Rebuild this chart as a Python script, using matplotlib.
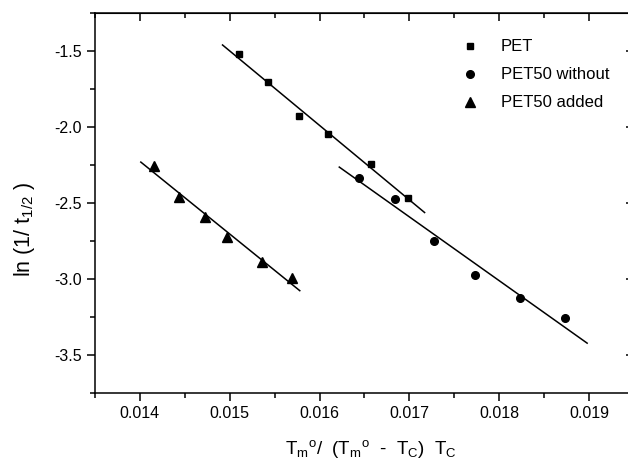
import numpy as np
import matplotlib
matplotlib.use("Agg")
from matplotlib import pyplot as plt
from matplotlib.ticker import MultipleLocator

plt.rcParams['font.family'] = ['Liberation Sans', 'DejaVu Sans']
plt.rcParams['mathtext.fontset'] = 'custom'
plt.rcParams['mathtext.rm'] = 'Liberation Sans'
plt.rcParams['mathtext.default'] = 'regular'

# data
pet_x = [0.01510, 0.01543, 0.01577, 0.01609, 0.01657, 0.01698]
pet_y = [-1.522, -1.702, -1.928, -2.046, -2.245, -2.465]

without_x = [0.01644, 0.01684, 0.01727, 0.01773, 0.01823, 0.01873]
without_y = [-2.333, -2.474, -2.748, -2.974, -3.123, -3.255]

added_x = [0.01416, 0.01444, 0.01473, 0.01497, 0.01536, 0.01569]
added_y = [-2.254, -2.458, -2.594, -2.726, -2.886, -2.996]

# x range covered by each fitted line
pet_fit_range = [0.01492, 0.01717]
without_fit_range = [0.01622, 0.01898]
added_fit_range = [0.01401, 0.01578]

fig = plt.figure(figsize=(6.28, 4.67), dpi=100)
ax = fig.add_axes([0.1513, 0.1585, 0.858, 0.8137])

series = [
    (pet_x, pet_y, pet_fit_range, 's', 5, 'PET'),
    (without_x, without_y, without_fit_range, 'o', 5.5, 'PET50 without'),
    (added_x, added_y, added_fit_range, '^', 6.5, 'PET50 added'),
]

for xs, ys, rng, mk, ms, name in series:
    ax.plot(xs, ys, linestyle='none', marker=mk, markersize=ms, color='black', label=name)
    slope, icpt = np.polyfit(xs, ys, 1)
    fx = np.array(rng)
    ax.plot(fx, slope * fx + icpt, color='black', linewidth=1.1)

ax.set_xlim(0.0135, 0.0195)
ax.set_ylim(-3.75, -1.25)
ax.xaxis.set_major_locator(MultipleLocator(0.001))
ax.xaxis.set_minor_locator(MultipleLocator(0.0005))
ax.yaxis.set_major_locator(MultipleLocator(0.5))
ax.yaxis.set_minor_locator(MultipleLocator(0.25))
ax.xaxis.set_major_formatter(plt.FuncFormatter(lambda v, p: f"{v:.3f}"))
ax.yaxis.set_major_formatter(plt.FuncFormatter(lambda v, p: f"{v:.1f}"))

ax.tick_params(which='both', direction='out', width=1.1, labelsize=11.5)
ax.tick_params(which='major', length=6)
ax.tick_params(which='minor', length=3.5)
for s in ax.spines.values():
    s.set_linewidth(1.1)

# top and right ticks point into the plot
top = ax.secondary_xaxis('top')
top.xaxis.set_major_locator(MultipleLocator(0.001))
top.xaxis.set_minor_locator(MultipleLocator(0.0005))
top.tick_params(which='both', direction='in', width=1.1, labeltop=False)
top.tick_params(which='major', length=6)
top.tick_params(which='minor', length=3.5)
right = ax.secondary_yaxis('right')
right.yaxis.set_major_locator(MultipleLocator(0.5))
right.yaxis.set_minor_locator(MultipleLocator(0.25))
right.tick_params(which='both', direction='in', width=1.1, labelright=False)
right.tick_params(which='major', length=6)
right.tick_params(which='minor', length=3.5)

ax.set_xlabel("T$_{m}$$^{o}$/  (T$_{m}$$^{o}$  -  T$_{C}$)  T$_{C}$", fontsize=13.5)
ax.xaxis.set_label_coords(0.512, -0.118)
ax.set_ylabel("ln (1/ t$_{1/2}$ )", fontsize=15.5)
ax.yaxis.set_label_coords(-0.108, 0.43)

ax.legend(loc='upper left', bbox_to_anchor=(0.722, 0.93), bbox_transform=fig.transFigure,
          frameon=False, fontsize=12, handletextpad=1.25, labelspacing=0.78,
          handlelength=1.2, borderaxespad=0)

fig.savefig('out.png', dpi=100)
